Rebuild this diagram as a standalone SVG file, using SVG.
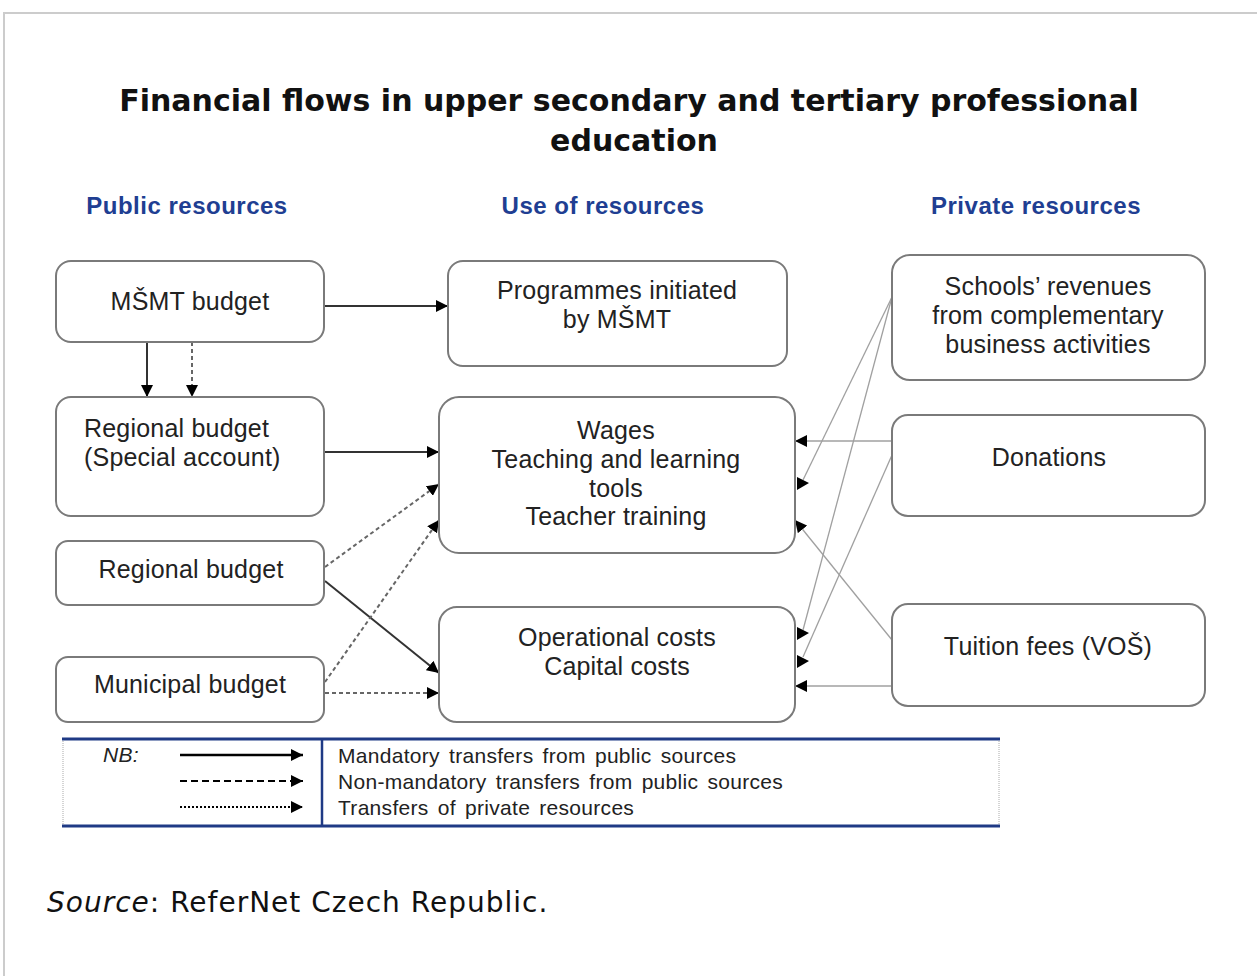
<svg xmlns="http://www.w3.org/2000/svg" width="1257" height="976" viewBox="0 0 1257 976">
<style>
.frame{fill:#fff;stroke:#cccccc;stroke-width:2}
.box{fill:#fff;stroke:#7a7a7a;stroke-width:2}
.t{font-family:"Liberation Sans",Arial,sans-serif;font-size:25px;letter-spacing:0.2px;fill:#222}
.tc{text-anchor:middle}
.hd{font-family:"Liberation Sans",Arial,sans-serif;font-size:24px;letter-spacing:0.5px;font-weight:bold;fill:#203e92;text-anchor:middle}
.title{font-family:"DejaVu Sans",sans-serif;font-size:30px;font-weight:bold;fill:#111;text-anchor:middle}
.src{font-family:"DejaVu Sans",sans-serif;font-size:28px;letter-spacing:1px;fill:#111}
.solid{stroke:#333;stroke-width:2;fill:none}
.dash{stroke:#666;stroke-width:2;stroke-dasharray:4 3;fill:none}
.priv{stroke:#a0a0a0;stroke-width:1.3;fill:none}
.lg{font-family:"Liberation Sans",Arial,sans-serif;font-size:21px;letter-spacing:0.3px;fill:#222;word-spacing:3px}
.ah{fill:#000}
</style>
<defs>
<marker id="arr" viewBox="0 0 12 12" refX="12" refY="6" markerWidth="12" markerHeight="12" markerUnits="userSpaceOnUse" orient="auto">
<path d="M0,0 L12,6 L0,12 Z" fill="#000"/>
</marker>
</defs>
<rect class="frame" x="4" y="13" width="1270" height="980"/>
<text class="title" x="629" y="111">Financial flows in upper secondary and tertiary professional</text>
<text class="title" x="634" y="151">education</text>
<g id="headers">
<text class="hd" x="187" y="214">Public resources</text>
<text class="hd" x="603" y="214">Use of resources</text>
<text class="hd" x="1036" y="214">Private resources</text>
</g>
<g id="connectors">
<line class="solid" x1="324" y1="306" x2="448" y2="306" marker-end="url(#arr)"/>
<line class="solid" x1="147" y1="342" x2="147" y2="397" marker-end="url(#arr)"/>
<line class="dash" x1="192" y1="342" x2="192" y2="397" marker-end="url(#arr)"/>
<line class="solid" x1="324" y1="452" x2="439" y2="452" marker-end="url(#arr)"/>
<line class="dash" x1="325" y1="567" x2="439" y2="484" marker-end="url(#arr)"/>
<line class="solid" x1="325" y1="581" x2="439" y2="673" marker-end="url(#arr)"/>
<line class="dash" x1="325" y1="682" x2="439" y2="520" marker-end="url(#arr)"/>
<line class="dash" x1="325" y1="693" x2="439" y2="693" marker-end="url(#arr)"/>
<line class="priv" x1="892" y1="297" x2="803" y2="480"/>
<polygon class="ah" points="797,477 809,483 797,490"/>
<line class="priv" x1="892" y1="297" x2="803" y2="630"/>
<polygon class="ah" points="797,627 809,633 797,640"/>
<line class="priv" x1="892" y1="441" x2="795" y2="441" marker-end="url(#arr)"/>
<line class="priv" x1="892" y1="455" x2="803" y2="657"/>
<polygon class="ah" points="797,655 809,661 797,668"/>
<line class="priv" x1="892" y1="640" x2="795" y2="520" marker-end="url(#arr)"/>
<line class="priv" x1="892" y1="686" x2="795" y2="686" marker-end="url(#arr)"/>
</g>
<g id="n-msmt">
<rect class="box" x="56" y="261" width="268" height="81" rx="15"/>
<text class="t tc" x="190" y="310">MŠMT budget</text>
</g>
<g id="n-programmes">
<rect class="box" x="448" y="261" width="339" height="105" rx="15"/>
<text class="t tc" x="617" y="299">Programmes initiated</text>
<text class="t tc" x="617" y="328">by MŠMT</text>
</g>
<g id="n-regional-special">
<rect class="box" x="56" y="397" width="268" height="119" rx="15"/>
<text class="t" x="84" y="437">Regional budget</text>
<text class="t" x="84" y="466">(Special account)</text>
</g>
<g id="n-regional">
<rect class="box" x="56" y="541" width="268" height="64" rx="12"/>
<text class="t tc" x="191" y="578">Regional budget</text>
</g>
<g id="n-municipal">
<rect class="box" x="56" y="657" width="268" height="65" rx="12"/>
<text class="t tc" x="190" y="693">Municipal budget</text>
</g>
<g id="n-wages">
<rect class="box" x="439" y="397" width="356" height="156" rx="20"/>
<text class="t tc" x="616" y="439">Wages</text>
<text class="t tc" x="616" y="468">Teaching and learning</text>
<text class="t tc" x="616" y="497">tools</text>
<text class="t tc" x="616" y="525">Teacher training</text>
</g>
<g id="n-operational">
<rect class="box" x="439" y="607" width="356" height="115" rx="18"/>
<text class="t tc" x="617" y="646">Operational costs</text>
<text class="t tc" x="617" y="675">Capital costs</text>
</g>
<g id="n-schools">
<rect class="box" x="892" y="255" width="313" height="125" rx="18"/>
<text class="t tc" x="1048" y="295">Schools’ revenues</text>
<text class="t tc" x="1048" y="324">from complementary</text>
<text class="t tc" x="1048" y="353">business activities</text>
</g>
<g id="n-donations">
<rect class="box" x="892" y="415" width="313" height="101" rx="16"/>
<text class="t tc" x="1049" y="466">Donations</text>
</g>
<g id="n-tuition">
<rect class="box" x="892" y="604" width="313" height="102" rx="16"/>
<text class="t tc" x="1048" y="655">Tuition fees (VOŠ)</text>
</g>
<g id="legend">
<rect x="63" y="739" width="936" height="87" fill="#fff" stroke="none"/>
<line x1="63" y1="739" x2="63" y2="826" stroke="#aaa" stroke-width="1" stroke-dasharray="1 1"/>
<line x1="999" y1="739" x2="999" y2="826" stroke="#aaa" stroke-width="1" stroke-dasharray="1 1"/>
<line x1="62" y1="739" x2="1000" y2="739" stroke="#1f3a85" stroke-width="3"/>
<line x1="62" y1="826" x2="1000" y2="826" stroke="#1f3a85" stroke-width="3"/>
<line x1="322" y1="739" x2="322" y2="826" stroke="#1f3a85" stroke-width="2.5"/>
<text class="lg" x="103" y="762" font-style="italic">NB:</text>
<line x1="180" y1="755" x2="303" y2="755" stroke="#000" stroke-width="2.5" marker-end="url(#arr)"/>
<line x1="180" y1="781" x2="303" y2="781" stroke="#000" stroke-width="2" stroke-dasharray="7 4" marker-end="url(#arr)"/>
<line x1="180" y1="807" x2="303" y2="807" stroke="#000" stroke-width="2" stroke-dasharray="2 2" marker-end="url(#arr)"/>
<text class="lg" x="338" y="763">Mandatory transfers from public sources</text>
<text class="lg" x="338" y="789">Non-mandatory transfers from public sources</text>
<text class="lg" x="338" y="815">Transfers of private resources</text>
</g>
<text class="src" x="47" y="912"><tspan font-style="italic">Source</tspan>: ReferNet Czech Republic.</text>
</svg>
